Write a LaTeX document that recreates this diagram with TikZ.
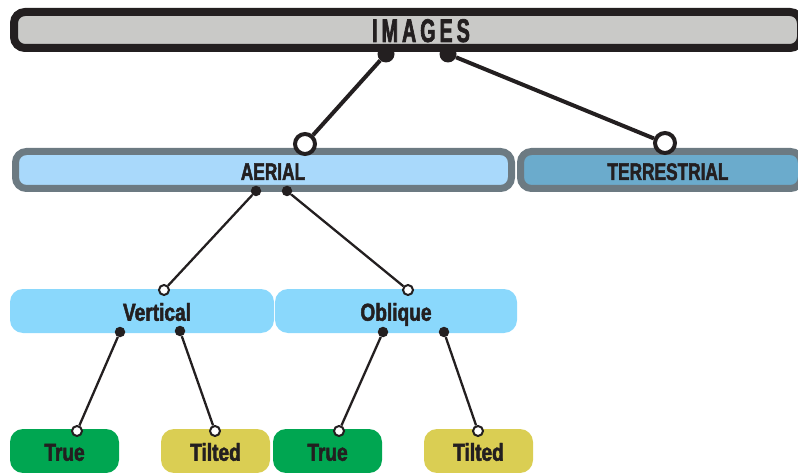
\documentclass[tikz,border=0pt]{standalone}
\usepackage{fontspec}
\newfontfamily\headfont{Liberation Sans}[FakeStretch=0.6, BoldFeatures={FakeBold=2}]
\newfontfamily\barfont{Liberation Sans}[FakeStretch=0.72, BoldFeatures={FakeBold=2}]
\newfontfamily\boxfont{Liberation Sans}[FakeStretch=0.78, BoldFeatures={FakeBold=2}]
\definecolor{inkblack}{HTML}{231F20}
\definecolor{bargray}{HTML}{C9C9C7}
\definecolor{bluegray}{HTML}{6C7A82}
\definecolor{aerialfill}{HTML}{A9D9FB}
\definecolor{terrfill}{HTML}{6BABCC}
\definecolor{levelblue}{HTML}{8AD8FC}
\definecolor{truegreen}{HTML}{00A651}
\definecolor{tiltyellow}{HTML}{DACE53}
\tikzset{
	bar/.style={draw, rounded corners=11pt, inner sep=0pt},
	box/.style={rounded corners=13pt, inner sep=0pt, minimum height=44pt},
	headtext/.style={text=inkblack, inner sep=0pt, text height=24pt, text depth=0pt, font=\headfont\bfseries\fontsize{32.8}{33}\selectfont},
	bartext/.style={text=inkblack, inner sep=0pt, text height=20pt, text depth=0pt, font=\barfont\bfseries\fontsize{24}{25}\selectfont},
	boxtext/.style={text=inkblack, inner sep=0pt, text height=19.5pt, text depth=0pt, font=\boxfont\bfseries\fontsize{24.5}{25}\selectfont},
	bigdot/.style={circle, fill=inkblack, inner sep=0pt, minimum size=17pt},
	bigring/.style={circle, draw=inkblack, fill=white, line width=4pt, inner sep=0pt, minimum size=20pt},
	dot/.style={circle, fill=inkblack, inner sep=0pt, minimum size=10.5pt},
	ring/.style={circle, draw=inkblack, fill=white, line width=2pt, inner sep=0pt, minimum size=10pt},
	biglink/.style={line width=4pt, color=inkblack},
	link/.style={line width=2.3pt, color=inkblack}
}

\begin{document}
\begin{tikzpicture}[x=1pt, y=-1pt]
		%%%%% START %%%%%
		\useasboundingbox (0, 0) rectangle (798, 473);
		
		% top bar
		\node[bar, draw=inkblack, line width=8pt, fill=bargray, minimum width=787pt, minimum height=36pt] (images) at (407.5, 30) {};
		\node[headtext] (imageslabel) at ([xshift=13.5pt]images.center) {I\kern4pt M\kern4pt A\kern4pt G\kern4pt E\kern4pt S};
		
		% second row
		\node[bar, draw=bluegray, line width=7pt, fill=aerialfill, minimum width=496pt, minimum height=37pt] (aerial) at (263.5, 170) {};
		\node[bartext] (aeriallabel) at ([xshift=9.5pt]aerial.center) {AERIAL};
		\node[bar, draw=bluegray, line width=7pt, fill=terrfill, minimum width=281pt, minimum height=37pt] (terrestrial) at (661, 170) {};
		\node[bartext] (terrestriallabel) at ([xshift=7pt]terrestrial.center) {TERRESTRIAL};
		
		% third row
		\node[box, fill=levelblue, minimum width=264pt] (vertical) at (142, 311) {};
		\node[boxtext] (verticallabel) at ([xshift=15pt]vertical.center) {Vertical};
		\node[box, fill=levelblue, minimum width=242pt] (oblique) at (396, 311) {};
		\node[boxtext] (obliquelabel) at (oblique.center) {Oblique};
		
		% bottom row
		\node[box, fill=truegreen, minimum width=109pt] (vtrue) at (64.5, 451) {};
		\node[boxtext] (vtruelabel) at (vtrue.center) {True};
		\node[box, fill=tiltyellow, minimum width=109pt] (vtilted) at (215.5, 451) {};
		\node[boxtext] (vtiltedlabel) at (vtilted.center) {Tilted};
		\node[box, fill=truegreen, minimum width=109pt] (otrue) at (327.5, 451) {};
		\node[boxtext] (otruelabel) at (otrue.center) {True};
		\node[box, fill=tiltyellow, minimum width=109pt] (otilted) at (478.5, 451) {};
		\node[boxtext] (otiltedlabel) at (otilted.center) {Tilted};
		
		% joints
		\node[bigdot] (imgdotL) at (386, 54) {};
		\node[bigdot] (imgdotR) at (448, 54) {};
		\node[bigring] (aerialring) at (305, 144) {};
		\node[bigring] (terrring) at (665, 143) {};
		
		\node[dot] (aerdotL) at (256, 191) {};
		\node[dot] (aerdotR) at (287, 191) {};
		\node[ring] (vertring) at (164, 290) {};
		\node[ring] (oblring) at (408, 290) {};
		
		\node[dot] (vertdotL) at (120, 332) {};
		\node[dot] (vertdotR) at (180, 331) {};
		\node[dot] (obldotL) at (383, 332) {};
		\node[dot] (obldotR) at (444, 332) {};
		\node[ring] (vtruering) at (77, 431) {};
		\node[ring] (vtiltring) at (215, 431) {};
		\node[ring] (otruering) at (339, 431) {};
		\node[ring] (otiltring) at (478, 431) {};
		
		% links
		\draw[biglink] (imgdotL) -- (aerialring);
		\draw[biglink] (imgdotR) -- (terrring);
		\draw[link] (aerdotL) -- (vertring);
		\draw[link] (aerdotR) -- (oblring);
		\draw[link] (vertdotL) -- (vtruering);
		\draw[link] (vertdotR) -- (vtiltring);
		\draw[link] (obldotL) -- (otruering);
		\draw[link] (obldotR) -- (otiltring);
		
		%%%%% END %%%%%
\end{tikzpicture}
\end{document}
